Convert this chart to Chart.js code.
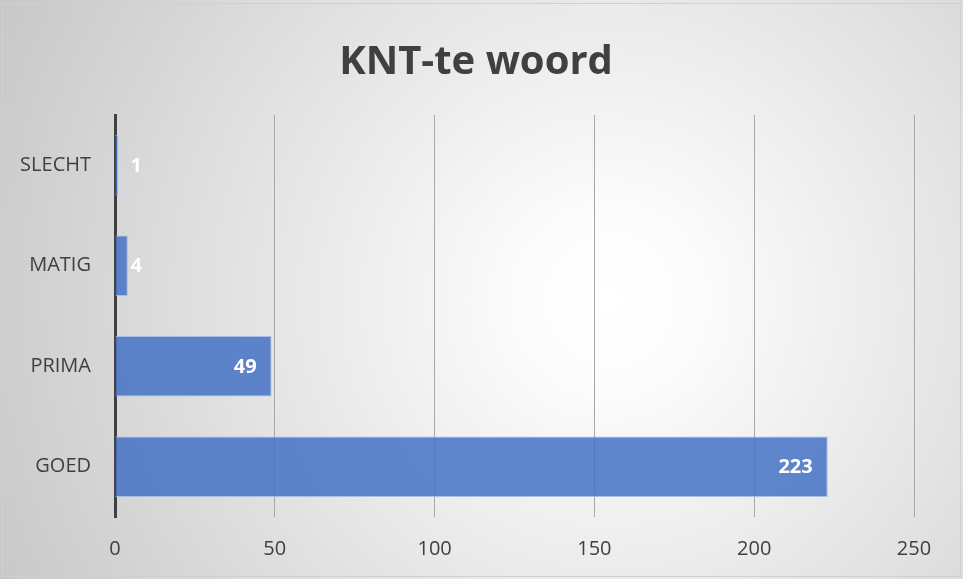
<!DOCTYPE html>
<html>
<head>
<meta charset="utf-8">
<script src="https://cdn.jsdelivr.net/npm/chart.js@4"></script>
<style>
  html, body { margin: 0; padding: 0; background: #fff; }
  #wrap { position: relative; width: 963px; height: 579px; }
</style>
</head>
<body>
<div id="wrap"><canvas id="chart" width="963" height="579"></canvas></div>
<script>
const chartTitle = 'KNT-te woord';
const categories = ['SLECHT', 'MATIG', 'PRIMA', 'GOED'];
const counts = [1, 4, 49, 223];
const xTicks = [0, 50, 100, 150, 200, 250];

const FONT = "'Open Sans', 'Liberation Sans', sans-serif";

// radial grey background, thin frame and the title
const backgroundPlugin = {
  id: 'bg',
  beforeDraw(chart) {
    const { ctx, width, height } = chart;
    ctx.save();
    const g = ctx.createRadialGradient(610, 300, 0, 610, 300, 720);
    g.addColorStop(0, '#ffffff');
    g.addColorStop(0.12, '#fcfcfc');
    g.addColorStop(1, '#c4c4c4');
    ctx.fillStyle = g;
    ctx.fillRect(0, 0, width, height);
    ctx.strokeStyle = '#d0d0d0';
    ctx.lineWidth = 1;
    ctx.strokeRect(2.5, 3.5, width - 5, height - 6);

    ctx.font = "bold 40px " + FONT;
    ctx.fillStyle = '#404040';
    ctx.textAlign = 'center';
    ctx.textBaseline = 'middle';
    ctx.fillText(chartTitle, 476, 63);
    ctx.restore();
  }
};

// value labels at the inside end of each bar
const valueLabels = {
  id: 'valueLabels',
  afterDatasetsDraw(chart) {
    const { ctx } = chart;
    const meta = chart.getDatasetMeta(0);
    ctx.save();
    ctx.font = "bold 20px " + FONT;
    ctx.fillStyle = '#ffffff';
    ctx.textAlign = 'right';
    ctx.textBaseline = 'middle';
    meta.data.forEach((bar, i) => {
      const txt = String(counts[i]);
      const w = ctx.measureText(txt).width;
      const x = Math.max(bar.x - 15, bar.base + 15 + w);
      ctx.fillText(txt, x, bar.y + 1);
    });
    ctx.restore();
  }
};

new Chart(document.getElementById('chart').getContext('2d'), {
  type: 'bar',
  data: {
    labels: categories,
    datasets: [{
      data: counts,
      backgroundColor: 'rgba(68, 114, 196, 0.85)',
      borderColor: 'rgba(160, 185, 228, 0.9)',
      borderWidth: 1,
      categoryPercentage: 0.6,
      barPercentage: 1
    }]
  },
  options: {
    indexAxis: 'y',
    responsive: false,
    animation: false,
    layout: { padding: { left: 0, right: 49, top: 115, bottom: 0 } },
    plugins: {
      legend: { display: false },
      tooltip: { enabled: false },
      title: { display: false }
    },
    scales: {
      x: {
        min: 0,
        max: 250,
        afterBuildTicks(scale) {
          scale.ticks = xTicks.map(v => ({ value: v }));
        },
        afterFit(scale) { scale.height = 62; },
        grid: { color: '#a8a8a8', lineWidth: 1, drawTicks: false },
        border: { display: false },
        ticks: {
          color: '#404040',
          font: { family: FONT, size: 20 },
          padding: 20
        }
      },
      y: {
        afterFit(scale) { scale.width = 115; },
        grid: { display: false, drawTicks: false },
        border: { display: true, color: '#404040', width: 3 },
        ticks: {
          color: '#404040',
          font: { family: FONT, size: 20 },
          padding: 24
        }
      }
    }
  },
  plugins: [backgroundPlugin, valueLabels]
});
</script>
</body>
</html>
